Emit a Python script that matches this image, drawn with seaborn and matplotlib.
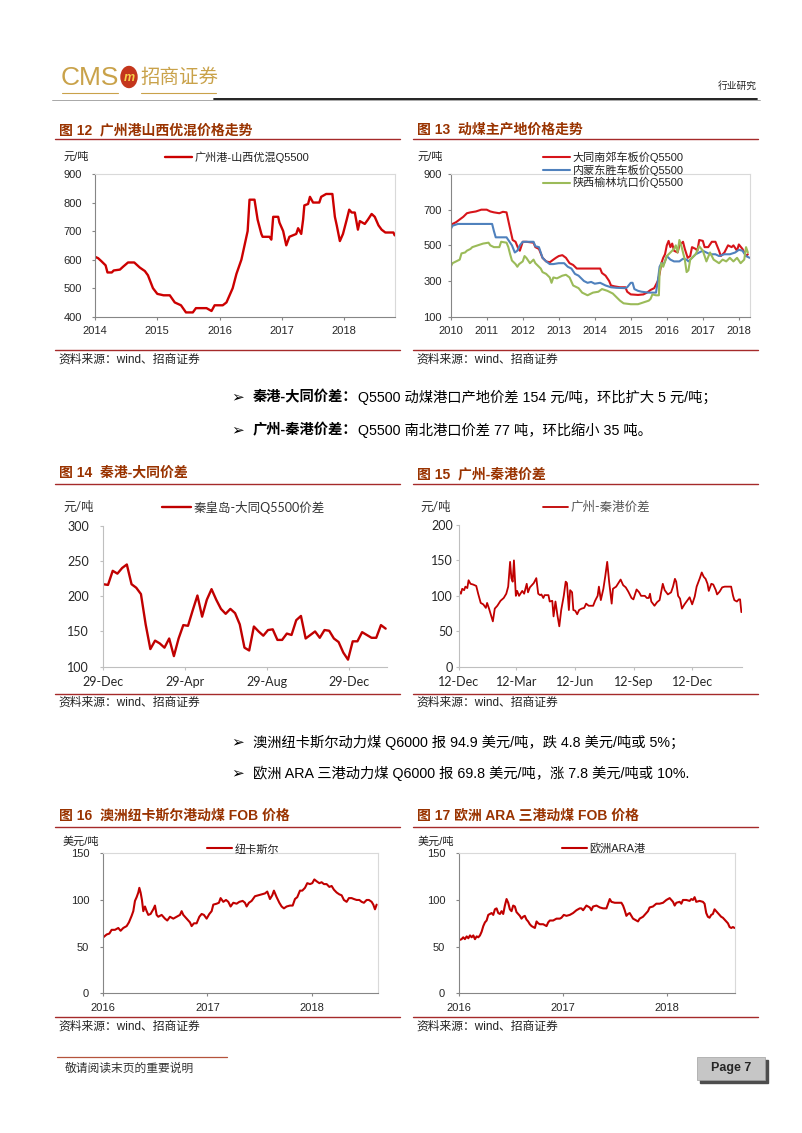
import numpy as np
import pandas as pd
import matplotlib
matplotlib.use('Agg')
import matplotlib.pyplot as plt
import matplotlib.dates as mdates
from matplotlib.patches import Ellipse, Rectangle
import seaborn as sns

# ---------------- data ----------------
# fig 12: 广州港山西优混 (x = years after 2014)
yr12 = [0, 0.05, 0.1, 0.17, 0.2, 0.27, 0.3, 0.4, 0.45, 0.53, 0.63, 0.72, 0.8, 0.85, 0.93, 1.0, 1.1, 1.2, 1.28, 1.38,
        1.46, 1.57, 1.62, 1.79, 1.87, 1.92, 2.05, 2.11, 2.21, 2.27, 2.35, 2.4, 2.45, 2.48, 2.56, 2.61, 2.67, 2.69, 2.8, 2.83,
        2.86, 2.94, 2.96, 3.02, 3.07, 3.12, 3.23, 3.26, 3.31, 3.34, 3.36, 3.42, 3.45, 3.5, 3.6, 3.63, 3.71, 3.81, 3.85, 3.88,
        3.93, 3.98, 4.04, 4.08, 4.12, 4.17, 4.22, 4.25, 4.33, 4.38, 4.44, 4.49, 4.55, 4.6, 4.66, 4.79, 4.81]
gz12 = [610, 605, 595, 580, 555, 555, 562, 565, 575, 590, 590, 572, 560, 545, 500, 480, 475, 475, 450, 440,
        415, 415, 430, 430, 420, 440, 440, 450, 500, 550, 600, 650, 700, 810, 810, 740, 690, 680, 680, 670,
        750, 750, 730, 700, 650, 680, 690, 710, 690, 740, 790, 795, 820, 800, 800, 820, 830, 830, 750, 720,
        665, 690, 740, 775, 765, 765, 705, 735, 725, 740, 760, 750, 720, 705, 695, 695, 685]

# fig 13: 动煤主产地价格 (x = years after 2010)
yr13_dt = [0, 0.05, 0.15, 0.25, 0.35, 0.45, 0.55, 0.7, 0.85, 1.0, 1.1, 1.2, 1.35, 1.45, 1.55, 1.62, 1.72, 1.8, 1.88, 1.92,
           2.0, 2.1, 2.3, 2.35, 2.45, 2.55, 2.65, 2.75, 2.85, 2.92, 3.0, 3.1, 3.2, 3.3, 3.4, 3.5, 3.6, 4.0, 4.15, 4.2,
           4.3, 4.4, 4.45, 4.55, 4.7, 4.85, 4.9, 5.0, 5.2, 5.35, 5.45, 5.55, 5.65, 5.75, 5.8, 5.85, 5.9, 5.95, 6.0, 6.05,
           6.1, 6.15, 6.2, 6.3, 6.35, 6.45, 6.5, 6.58, 6.65, 6.7, 6.8, 6.85, 6.9, 7.0, 7.05, 7.15, 7.25, 7.35, 7.45, 7.5,
           7.6, 7.7, 7.8, 7.85, 7.95, 8.0, 8.1, 8.2, 8.25]
datong = [605, 620, 630, 645, 660, 680, 685, 690, 700, 700, 690, 685, 680, 688, 685, 620, 530, 520, 480, 470,
          520, 520, 515, 490, 480, 430, 410, 405, 420, 430, 440, 445, 430, 400, 390, 370, 370, 370, 370, 345,
          330, 300, 275, 270, 265, 265, 240, 225, 222, 225, 235, 250, 260, 300, 340, 400, 430, 450, 500, 525,
          490, 510, 470, 460, 500, 520, 480, 430, 440, 490, 480, 470, 530, 525, 490, 490, 520, 520, 470, 440,
          460, 500, 490, 500, 470, 505, 480, 440, 450]
yr13_ds = [0, 0.05, 0.2, 1.15, 1.2, 1.25, 1.55, 1.6, 1.7, 1.78, 1.85, 1.92, 2.0, 2.3, 2.35, 2.45, 2.55, 2.65, 2.75, 2.85,
           3.0, 3.15, 3.25, 3.35, 3.45, 3.55, 3.7, 3.8, 3.9, 4.0, 4.15, 4.3, 4.45, 4.6, 4.85, 4.9, 5.0, 5.05, 5.1, 5.2,
           5.3, 5.5, 5.7, 5.75, 5.8, 5.85, 5.9, 5.95, 6.0, 6.1, 6.2, 6.35, 6.45, 6.55, 6.6, 6.7, 6.8, 6.9, 7.0, 7.1,
           7.2, 7.35, 7.45, 7.6, 7.75, 7.9, 8.0, 8.1, 8.2, 8.3]
dongsheng = [590, 610, 620, 620, 580, 545, 545, 530, 500, 460, 470, 500, 520, 520, 495, 490, 430, 410, 395, 395,
             400, 400, 380, 370, 340, 330, 300, 290, 295, 285, 290, 275, 265, 262, 260, 265, 290, 290, 255, 245,
             240, 235, 235, 300, 380, 400, 390, 410, 440, 420, 410, 410, 425, 420, 410, 430, 450, 460, 470, 460,
             450, 450, 440, 450, 450, 460, 475, 470, 440, 430]
yr13_yl = [0, 0.05, 0.15, 0.25, 0.3, 0.4, 0.45, 0.55, 0.6, 0.75, 0.9, 1.05, 1.1, 1.2, 1.35, 1.4, 1.55, 1.6, 1.65, 1.7,
           1.8, 1.85, 1.9, 2.0, 2.05, 2.1, 2.2, 2.3, 2.35, 2.5, 2.55, 2.65, 2.75, 2.8, 2.85, 2.95, 3.1, 3.2, 3.3, 3.4,
           3.55, 3.65, 3.8, 3.95, 4.1, 4.2, 4.35, 4.5, 4.6, 4.7, 4.8, 5.0, 5.2, 5.35, 5.5, 5.55, 5.6, 5.7, 5.78, 5.8,
           5.85, 5.9, 5.95, 6.0, 6.1, 6.2, 6.25, 6.3, 6.35, 6.4, 6.5, 6.55, 6.6, 6.65, 6.75, 6.8, 6.9, 7.0, 7.1, 7.2,
           7.3, 7.45, 7.55, 7.65, 7.75, 7.85, 7.95, 8.05, 8.15, 8.2, 8.25]
yulin = [380, 400, 410, 420, 455, 460, 470, 480, 490, 500, 510, 515, 500, 490, 490, 520, 515, 490, 450, 415,
         395, 380, 395, 410, 440, 430, 400, 420, 400, 370, 350, 340, 320, 290, 320, 315, 330, 335, 320, 275,
         260, 235, 220, 235, 240, 255, 245, 230, 210, 190, 175, 170, 170, 180, 190, 200, 225, 220, 220, 350,
         400, 380, 410, 440, 460, 480, 500, 460, 530, 500, 420, 350, 360, 420, 440, 450, 495, 470, 410, 460,
         420, 400, 420, 410, 430, 410, 430, 400, 420, 490, 460]
names13 = ['大同南郊车板价Q5500', '内蒙东胜车板价Q5500', '陕西榆林坑口价Q5500']
colors13 = ['#D7141A', '#4F81BD', '#9BBB59']

# fig 14: 秦港-大同价差, weekly from 29-Dec-2016
spread14 = [217, 216, 236, 232, 240, 245, 217, 212, 203, 160, 125, 137, 133, 127, 140, 115, 140, 159, 158, 180,
            201, 171, 195, 210, 195, 182, 175, 182, 176, 160, 127, 123, 157, 150, 144, 152, 153, 138, 138, 147,
            145, 166, 172, 140, 145, 150, 141, 152, 151, 140, 135, 120, 110, 136, 136, 149, 145, 141, 141, 159, 154]

# fig 15: 广州-秦港价差 (days after 12-Dec-2016)
days15 = [0, 3, 5, 8, 10, 13, 15, 18, 22, 27, 30, 34, 38, 42, 44, 47, 50, 53, 56, 60,
          65, 70, 74, 77, 80, 82, 84, 86, 89, 91, 94, 99, 102, 106, 108, 111, 117, 121, 124, 127,
          129, 132, 134, 140, 142, 146, 148, 151, 154, 157, 160, 164, 167, 169, 172, 174, 177, 179, 182, 185,
          188, 192, 196, 199, 203, 210, 213, 217, 219, 222, 226, 229, 232, 235, 239, 241, 246, 251, 253, 257,
          261, 265, 270, 273, 278, 282, 285, 291, 294, 297, 299, 301, 306, 310, 314, 317, 319, 322, 327, 332,
          335, 338, 340, 343, 346, 349, 353, 357, 361, 365, 369, 372, 377, 380, 383, 386, 389, 391, 395, 398,
          402, 404, 408, 412, 416, 421, 426, 429, 431, 435, 438, 440, 442]
spread15 = [107, 103, 110, 108, 113, 111, 122, 117, 116, 114, 103, 90, 88, 83, 90, 82, 73, 64, 82, 86,
            93, 97, 103, 113, 148, 125, 120, 150, 100, 107, 100, 107, 103, 117, 105, 112, 118, 125, 103, 101,
            102, 97, 101, 101, 92, 93, 71, 92, 73, 57, 80, 100, 120, 118, 80, 108, 105, 80, 79, 74,
            80, 82, 83, 89, 86, 86, 93, 100, 113, 94, 110, 128, 148, 120, 89, 110, 113, 120, 123, 115,
            112, 106, 97, 95, 109, 105, 100, 100, 97, 97, 103, 92, 86, 91, 94, 108, 117, 108, 102, 105,
            113, 124, 120, 100, 96, 82, 88, 93, 98, 88, 99, 113, 125, 133, 127, 124, 117, 107, 117, 116,
            108, 102, 106, 112, 113, 113, 113, 100, 94, 92, 95, 95, 77]

# fig 16: 纽卡斯尔 FOB (x = years after 2016)
yr16 = [0.000, 0.032, 0.058, 0.080, 0.112, 0.144, 0.166, 0.192, 0.224, 0.246, 0.272, 0.288, 0.304, 0.320, 0.336,
        0.346, 0.358, 0.371, 0.384, 0.400, 0.416, 0.432, 0.454, 0.480, 0.496, 0.512, 0.528, 0.560, 0.592, 0.614,
        0.640, 0.672, 0.704, 0.736, 0.752, 0.768, 0.800, 0.832, 0.848, 0.870, 0.896, 0.922, 0.944, 0.966, 0.992,
        1.018, 1.040, 1.056, 1.088, 1.110, 1.126, 1.152, 1.178, 1.200, 1.222, 1.248, 1.280, 1.306, 1.338, 1.360,
        1.376, 1.398, 1.424, 1.456, 1.488, 1.520, 1.552, 1.574, 1.600, 1.622, 1.638, 1.664, 1.690, 1.712, 1.734,
        1.760, 1.792, 1.818, 1.840, 1.862, 1.888, 1.910, 1.936, 1.958, 1.984, 2.006, 2.026, 2.048, 2.074, 2.096,
        2.118, 2.144, 2.170, 2.192, 2.214, 2.240, 2.266, 2.288, 2.310, 2.336, 2.358, 2.384, 2.406, 2.432, 2.458,
        2.480, 2.502, 2.528, 2.550, 2.576, 2.592, 2.608, 2.624]
newc = [60, 63, 64, 68, 68, 70, 67, 70, 72, 76, 83, 88, 99, 103, 108, 113, 108, 100, 88, 93,
        88, 84, 85, 90, 94, 84, 82, 84, 80, 78, 82, 80, 82, 84, 88, 84, 80, 76, 72, 75,
        75, 82, 85, 84, 80, 85, 88, 95, 96, 97, 102, 98, 100, 98, 93, 97, 96, 98, 99, 97,
        93, 97, 99, 104, 105, 106, 107, 109, 101, 105, 110, 103, 97, 93, 91, 93, 94, 94, 101, 103,
        110, 110, 113, 118, 117, 118, 122, 120, 118, 119, 117, 117, 114, 115, 111, 108, 106, 105, 100, 98,
        102, 102, 101, 100, 100, 98, 97, 100, 100, 98, 95, 90, 95]

# fig 17: 欧洲ARA港 FOB (x = years after 2016)
yr17 = [0.000, 0.022, 0.038, 0.054, 0.071, 0.087, 0.103, 0.119, 0.135, 0.151, 0.167, 0.183, 0.199, 0.215, 0.231,
        0.247, 0.263, 0.279, 0.295, 0.311, 0.327, 0.343, 0.359, 0.375, 0.391, 0.407, 0.423, 0.439, 0.455, 0.471,
        0.487, 0.503, 0.519, 0.535, 0.551, 0.567, 0.583, 0.599, 0.615, 0.631, 0.647, 0.663, 0.679, 0.696, 0.712,
        0.728, 0.744, 0.760, 0.776, 0.808, 0.824, 0.840, 0.856, 0.872, 0.904, 0.936, 0.968, 0.984, 1.006, 1.032,
        1.064, 1.096, 1.128, 1.160, 1.176, 1.192, 1.224, 1.256, 1.272, 1.288, 1.321, 1.353, 1.385, 1.417, 1.433,
        1.449, 1.465, 1.497, 1.529, 1.561, 1.577, 1.593, 1.609, 1.625, 1.641, 1.657, 1.673, 1.705, 1.721, 1.737,
        1.769, 1.801, 1.817, 1.833, 1.865, 1.897, 1.929, 1.962, 1.994, 2.026, 2.058, 2.074, 2.090, 2.122, 2.138,
        2.154, 2.186, 2.218, 2.234, 2.250, 2.266, 2.282, 2.314, 2.346, 2.362, 2.378, 2.394, 2.410, 2.426, 2.442,
        2.458, 2.474, 2.490, 2.506, 2.522, 2.538, 2.554, 2.571, 2.587, 2.603, 2.619, 2.635, 2.651]
ara = [57, 58, 60, 58, 61, 59, 62, 60, 62, 58, 61, 60, 62, 66, 72, 76, 78, 84, 85, 86,
       84, 90, 91, 86, 85, 88, 85, 94, 101, 97, 90, 88, 94, 93, 87, 85, 83, 80, 82, 83,
       79, 77, 74, 72, 71, 70, 77, 75, 74, 74, 73, 72, 76, 78, 78, 80, 80, 81, 84, 83,
       84, 86, 89, 91, 91, 89, 94, 92, 89, 93, 94, 92, 91, 91, 96, 101, 98, 97, 97, 97,
       94, 89, 83, 85, 86, 83, 80, 78, 77, 80, 82, 86, 88, 92, 93, 96, 96, 97, 100, 102,
       98, 94, 97, 98, 96, 100, 100, 99, 101, 100, 103, 98, 99, 98, 96, 86, 82, 81, 84, 85,
       90, 88, 86, 84, 82, 81, 79, 77, 75, 71, 70, 71, 70]

# ---------------- page setup ----------------
sns.set_theme(style='white')
plt.rcParams['font.family'] = ['Liberation Sans', 'Noto Sans CJK SC', 'DejaVu Sans']
plt.rcParams['axes.unicode_minus'] = False

W, H = 802, 1133
fig = plt.figure(figsize=(W / 100, H / 100), dpi=100)
page = fig.add_axes([0, 0, 1, 1], zorder=-1)
page.set_xlim(0, W)
page.set_ylim(H, 0)
page.axis('off')
page.patch.set_visible(False)

SANS = ['Liberation Sans', 'Noto Sans CJK SC']
CAL = ['Lato', 'Noto Sans CJK SC']
TITLE_C = '#993300'
RULE_C = '#A52A2A'
RED = '#C00000'


def box(l, t, r, b):
    return fig.add_axes([l / W, 1 - b / H, (r - l) / W, (b - t) / H])


def frame(ax, x0, x1, title, y_title, y_rule, y_rule2, y_src):
    page.text(x0 + 4, y_title, title, fontsize=10, fontweight='bold', color=TITLE_C, va='center', family=SANS)
    page.plot([x0, x1], [y_rule, y_rule], color=RULE_C, lw=1.0)
    page.plot([x0, x1], [y_rule2, y_rule2], color=RULE_C, lw=1.0)
    page.text(x0 + 3, y_src, '资料来源：wind、招商证券', fontsize=8.5, color='#222', va='center', family=SANS)


def style(ax, fam, fs, ypad, box_frame=True, axcol='#868686'):
    sns.despine(ax=ax, top=not box_frame, right=not box_frame)
    for s in ['left', 'bottom']:
        ax.spines[s].set_color(axcol)
        ax.spines[s].set_linewidth(0.8)
    if box_frame:
        for s in ['top', 'right']:
            ax.spines[s].set_color('#D9D9D9')
            ax.spines[s].set_linewidth(0.8)
    ax.tick_params(axis='both', bottom=True, left=True, direction='out', length=2.2, width=0.8,
                   color=axcol, labelsize=fs, labelcolor='#262626', labelfontfamily=fam)
    ax.tick_params(axis='x', pad=4.5)
    ax.tick_params(axis='y', pad=ypad)
    ax.set_xlabel('')
    ax.set_ylabel('')
    ax.grid(False)


def legend(ax, x, y, fs, hl, fam, col='#222', **kw):
    leg = ax.legend(loc='center left', bbox_to_anchor=(x / W, 1 - y / H), bbox_transform=fig.transFigure,
                    frameon=False, prop={'family': fam, 'size': fs}, handlelength=hl, handletextpad=0.2,
                    borderpad=0, borderaxespad=0, **kw)
    for t in leg.get_texts():
        t.set_color(col)
    return leg


# ---------------- header ----------------
GOLD = '#C9A24A'
page.text(61, 78, 'CMS', fontsize=19, color=GOLD, va='center', family=['Liberation Sans'])
page.add_patch(Ellipse((129, 77), 16, 21, color='#C4361C'))
page.text(129, 78, 'm', fontsize=9, color='#F6D24A', fontweight='bold', style='italic', ha='center', va='center')
page.text(140, 78, '招商证券', fontsize=14, color=GOLD, va='center', family=SANS)
page.plot([62, 118], [93, 93], color=GOLD, lw=0.8)
page.plot([141, 216], [93, 93], color=GOLD, lw=0.8)
page.text(757, 86, '行业研究', fontsize=7, color='#222', ha='right', va='center', family=SANS)
page.plot([52, 760], [99.5, 99.5], color='#9A9A9A', lw=0.6)
page.plot([214, 757], [98.6, 98.6], color='#111111', lw=1.3)

# ---------------- fig 12 ----------------
ax12 = box(95, 174, 395, 316.7)
sns.lineplot(x=2014 + np.array(yr12), y=gz12, ax=ax12, color='#CC0000', lw=1.7, label='广州港-山西优混Q5500')
ax12.set_xlim(2014, 2018.815)
ax12.set_ylim(400, 900)
ax12.set_xticks([2014, 2015, 2016, 2017, 2018])
ax12.set_xticklabels(['2014', '2015', '2016', '2017', '2018'])
ax12.set_yticks(range(400, 901, 100))
style(ax12, SANS, 8, 7)
legend(ax12, 165, 157, 8, 2.45, SANS)
page.text(63, 157, '元/吨', fontsize=8, color='#222', va='center', family=SANS)
frame(ax12, 55, 400, '图 12  广州港山西优混价格走势', 130, 139, 350, 360)

# ---------------- fig 13 ----------------
ax13 = box(450.7, 174, 750, 316.7)
df13 = pd.concat([
    pd.DataFrame({'year': 2010 + np.array(yr13_dt), 'price': datong, 'series': names13[0]}),
    pd.DataFrame({'year': 2010 + np.array(yr13_ds), 'price': dongsheng, 'series': names13[1]}),
    pd.DataFrame({'year': 2010 + np.array(yr13_yl), 'price': yulin, 'series': names13[2]}),
])
sns.lineplot(data=df13, x='year', y='price', hue='series', hue_order=names13,
             palette=dict(zip(names13, colors13)), ax=ax13, lw=1.5)
ax13.set_xlim(2010, 2018.31)
ax13.set_ylim(100, 900)
ax13.set_xticks(range(2010, 2019))
ax13.set_xticklabels([str(y) for y in range(2010, 2019)])
ax13.set_yticks([100, 300, 500, 700, 900])
style(ax13, SANS, 8, 4)
legend(ax13, 543, 170, 8, 2.45, SANS, labelspacing=0.12)
page.text(418, 157, '元/吨', fontsize=8, color='#222', va='center', family=SANS)
frame(ax13, 413, 758, '图 13  动煤主产地价格走势', 130, 139, 350, 360)

# ---------------- bullets 1 ----------------
rend = fig.canvas.get_renderer()


def runs(x, y, parts, size=10.3):
    for s, bold in parts:
        t = page.text(x, y, s, fontsize=size, va='center', ha='left', color='black', family=SANS,
                      fontweight='bold' if bold else 'normal')
        x += t.get_window_extent(renderer=rend).width


def bullet(y, parts):
    page.text(231, y, '➢', fontsize=11, va='center', family=['DejaVu Sans'], color='black')
    runs(253, y, parts)


bullet(397, [('秦港-大同价差：', True), ('Q5500 动煤港口产地价差 154 元/吨，环比扩大 5 元/吨；', False)])
bullet(430, [('广州-秦港价差：', True), ('Q5500 南北港口价差 77 吨，环比缩小 35 吨。', False)])

# ---------------- fig 14 ----------------
ax14 = box(103.3, 525.7, 387, 666.7)
d14 = pd.date_range('2016-12-29', periods=len(spread14), freq='7D')
sns.lineplot(x=d14, y=spread14, ax=ax14, color=RED, lw=1.7, label='秦皇岛-大同Q5500价差')
ax14.set_xlim(pd.Timestamp('2016-12-29'), pd.Timestamp('2016-12-29') + pd.Timedelta(days=422))
ax14.set_ylim(100, 300)
ax14.set_yticks(range(100, 301, 50))
ax14.xaxis.set_major_locator(mdates.MonthLocator(bymonth=(4, 8, 12), bymonthday=29))
ax14.xaxis.set_major_formatter(mdates.DateFormatter('%d-%b'))
style(ax14, CAL, 9, 8, box_frame=False, axcol='#BFBFBF')
legend(ax14, 162, 507, 9, 2.3, CAL, col='#333')
page.text(63, 507, '元/吨', fontsize=9, color='#333', va='center', family=CAL)
frame(ax14, 55, 400, '图 14  秦港-大同价差', 473, 484, 694, 703)

# ---------------- fig 15 ----------------
ax15 = box(459, 525, 742, 666.7)
d15 = pd.Timestamp('2016-12-12') + pd.to_timedelta(days15, unit='D')
sns.lineplot(x=d15, y=spread15, ax=ax15, color=RED, lw=1.3, label='广州-秦港价差')
ax15.set_xlim(pd.Timestamp('2016-12-12'), pd.Timestamp('2016-12-12') + pd.Timedelta(days=443))
ax15.set_ylim(0, 200)
ax15.set_yticks(range(0, 201, 50))
ax15.xaxis.set_major_locator(mdates.MonthLocator(bymonth=(3, 6, 9, 12), bymonthday=12))
ax15.xaxis.set_major_formatter(mdates.DateFormatter('%d-%b'))
style(ax15, CAL, 9, 2, box_frame=False, axcol='#BFBFBF')
legend(ax15, 543, 507, 9, 2.0, CAL, col='#555')
page.text(420, 507, '元/吨', fontsize=9, color='#333', va='center', family=CAL)
frame(ax15, 413, 758, '图 15  广州-秦港价差', 474, 484, 694, 703)

# ---------------- bullets 2 ----------------
bullet(742, [('澳洲纽卡斯尔动力煤 Q6000 报 94.9 美元/吨，跌 4.8 美元/吨或 5%；', False)])
bullet(773, [('欧洲 ARA 三港动力煤 Q6000 报 69.8 美元/吨，涨 7.8 美元/吨或 10%.', False)])

# ---------------- fig 16 ----------------
ax16 = box(103.3, 853.3, 378.3, 993.3)
sns.lineplot(x=2016 + np.array(yr16), y=newc, ax=ax16, color=RED, lw=1.5, label='纽卡斯尔')
ax16.set_xlim(2016, 2018.64)
ax16.set_ylim(0, 150)
ax16.set_xticks([2016, 2017, 2018])
ax16.set_xticklabels(['2016', '2017', '2018'])
ax16.set_yticks([0, 50, 100, 150])
style(ax16, SANS, 8, 8)
legend(ax16, 207, 849, 8, 2.25, SANS)
page.text(63, 842, '美元/吨', fontsize=8, color='#222', va='center', family=SANS)
frame(ax16, 55, 400, '图 16  澳洲纽卡斯尔港动煤 FOB 价格', 816, 827, 1017, 1027)

# ---------------- fig 17 ----------------
ax17 = box(459.3, 853.3, 735, 993.3)
sns.lineplot(x=2016 + np.array(yr17), y=ara, ax=ax17, color=RED, lw=1.5, label='欧洲ARA港')
ax17.set_xlim(2016, 2018.655)
ax17.set_ylim(0, 150)
ax17.set_xticks([2016, 2017, 2018])
ax17.set_xticklabels(['2016', '2017', '2018'])
ax17.set_yticks([0, 50, 100, 150])
style(ax17, SANS, 8, 8)
legend(ax17, 562, 848, 8, 2.25, SANS)
page.text(418, 842, '美元/吨', fontsize=8, color='#222', va='center', family=SANS)
frame(ax17, 413, 758, '图 17 欧洲 ARA 三港动煤 FOB 价格', 816, 827, 1017, 1027)

# ---------------- footer ----------------
page.plot([57, 227], [1057, 1057], color='#B5533C', lw=0.9)
page.text(65, 1069, '敬请阅读末页的重要说明', fontsize=8.5, color='#333', va='center', family=SANS)
page.add_patch(Rectangle((700, 1060), 68, 23, color='#4D4D4D'))
page.add_patch(Rectangle((697, 1057), 68, 23, facecolor='#C6C6C6', edgecolor='#A0A0A0', lw=0.5))
page.text(731, 1068.5, 'Page 7', fontsize=9, fontweight='bold', ha='center', va='center', family=SANS)

fig.savefig('out.png', dpi=100)
